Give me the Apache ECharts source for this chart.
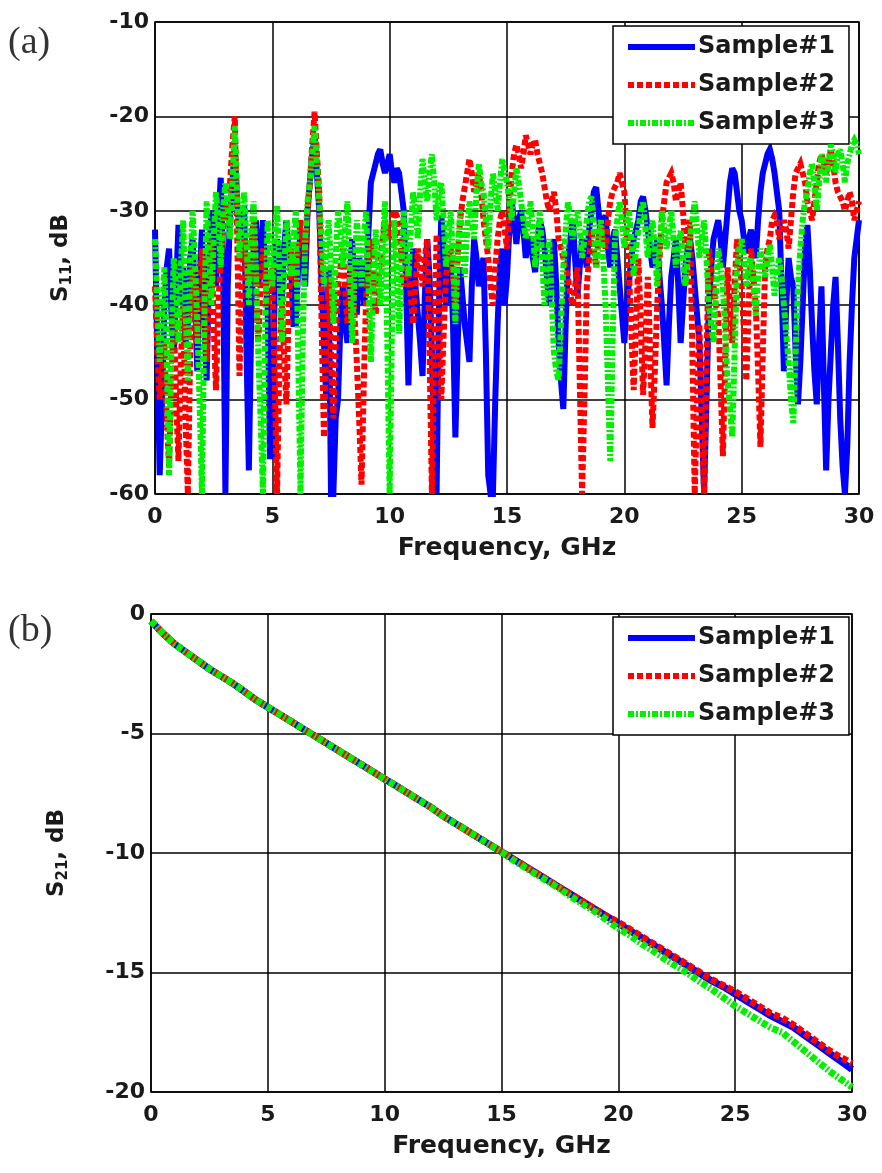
<!DOCTYPE html>
<html>
<head>
<meta charset="utf-8">
<script src="https://cdn.jsdelivr.net/npm/echarts@6/dist/echarts.min.js"></script>
<style>
html,body{margin:0;padding:0;background:#fff;}
#c{width:882px;height:1173px;}
</style>
</head>
<body>
<div id="c"></div>
<script>
// ---- (a) S11, sampled every 0.1 GHz from 0 to 30 GHz (one row = 1 GHz) ----
const S11_STEP_GHZ = 0.1;
const s11Sample1 = [
  -32,-45,-58,-50,-40,-36,-34,-41,-45,-38,
  -31.5,-40,-36,-44,-42,-35,-33,-39,-47,-37,
  -32,-41,-48,-36,-30,-34,-38,-31,-26.5,-35,
  -60,-38,-30,-27,-23,-29,-33,-31,-29.5,-45,
  -57.5,-42,-34,-31,-38,-35,-31,-37,-40,-56,
  -56,-38,-33,-36,-40,-34,-31,-35,-36,-42,
  -42,-36,-32,-35,-38,-30,-27,-24,-22,-26,
  -30,-38,-44,-50,-36,-60,-60,-52,-50,-42,
  -38,-42,-44,-37,-33,-38,-41,-35,-36,-40,
  -38,-32,-27,-26,-25,-24,-23.5,-25,-26,-25,
  -24,-26,-27,-25.5,-26,-28,-30,-38,-48.5,-40,
  -34,-38,-41,-44,-47.5,-39,-33,-37,-45,-55,
  -60,-40,-30.5,-34,-40,-37,-35,-42,-54,-44,
  -36,-39,-42,-44,-46,-38,-33,-35,-38,-36,
  -35,-45,-58,-60,-60,-50,-42,-36,-34,-40,
  -37,-32,-29,-31,-33.5,-31,-30,-32,-35,-33,
  -33,-35,-36.5,-33,-31,-32,-34,-37,-40,-36,
  -33,-38,-44,-48,-51,-42,-35,-33,-31,-35,
  -39,-36,-33,-34,-36,-32,-30,-28,-27.5,-30,
  -33,-31,-30.5,-34,-36,-33,-32,-35,-38,-41,
  -44,-40,-37.5,-35,-33,-32,-31,-29,-28.5,-30,
  -32,-34,-36,-35,-33,-37,-40,-44,-48.5,-42,
  -37,-35,-33,-38,-44,-40,-36,-34,-33,-35,
  -38,-41,-44,-52,-60,-50,-40,-36,-33,-32,
  -31,-33,-36,-33,-30,-27,-25.5,-26,-28,-30,
  -31,-33,-34.5,-33,-32,-34,-35,-31,-28,-26,
  -25,-24,-23.5,-24.5,-26,-28,-30,-38,-47,-40,
  -35,-37,-38,-45,-50.5,-46,-40,-34,-31.5,-36,
  -42,-47,-50.5,-44,-38,-48,-57.5,-50,-45,-40,
  -37,-44,-52,-57,-60,-55,-46,-40,-35,-33,
  -31
];
const s11Sample2 = [
  -38,-45,-50,-47,-44,-52,-57,-48,-41,-50,
  -56.5,-46,-40,-52,-60,-45,-36,-40,-44,-38,
  -34,-40,-46,-38,-33,-42,-49,-40,-35,-32,
  -30,-29,-27,-23,-20,-32,-47.5,-38,-33,-36,
  -38,-34,-31,-38,-44,-38,-34,-37,-40,-38,
  -36,-48,-60,-46,-39.5,-45,-50.5,-40,-34,-36,
  -38,-34,-31,-33,-35,-30,-27,-23,-19.5,-24,
  -28,-42,-54,-44,-37,-45,-52,-44,-38,-36,
  -34,-38,-42,-39,-36,-41,-46,-52,-59,-48,
  -39,-36,-33,-37,-41,-38,-35,-33,-31,-32,
  -33,-31,-30,-30.5,-31.5,-35,-38,-37,-36,-39,
  -42,-38,-34,-36,-38,-35,-33,-45,-60,-45,
  -32.5,-40,-50,-43,-37,-35,-34,-37,-40,-35,
  -31,-29,-27.5,-26,-24.5,-26,-28,-27,-26,-28,
  -31,-33,-35,-38,-40,-36,-33,-31,-30,-32,
  -34,-30,-26,-24,-23,-24,-25.5,-24,-22,-23,
  -24,-23,-22.5,-24,-25,-26,-27.5,-29,-30,-29,
  -28,-30,-33,-34,-35,-36,-37,-39,-40,-38,
  -36,-48,-60,-50,-38,-35,-32,-34,-36,-33,
  -31,-33,-34,-31,-29,-28,-27.5,-27,-26,-27,
  -28,-32,-36.5,-43,-49,-42,-35,-42,-49.5,-44,
  -37,-45,-53,-47,-40,-35,-31,-29,-27,-26.5,
  -26,-27,-29,-28,-27,-30,-34,-32,-31,-45,
  -60,-50,-42,-52,-60,-46,-34,-36,-38,-40,
  -41,-48,-56,-46,-36,-40,-44,-38,-33,-35,
  -38,-43,-48,-40,-34,-37,-40,-47,-55,-45,
  -36,-34,-33,-31,-30.5,-31,-33,-32,-31,-32,
  -34,-31,-28,-26,-25.5,-25,-26,-27,-29,-30,
  -31,-29,-27,-25,-24,-25,-26,-25,-23.5,-25,
  -27,-28,-28.5,-29,-30,-29,-28,-29,-31,-30,
  -29
];
const s11Sample3 = [
  -33,-40,-46,-41,-36,-45,-58,-44,-35,-38,
  -44,-36,-31,-40,-48,-36,-30,-35,-42,-50,
  -60,-42,-29,-34,-40,-33,-28,-31,-36,-30,
  -27,-29,-33,-27,-21,-28,-35,-31,-28,-33,
  -40,-33,-29,-36,-45,-52,-60,-42,-31,-34,
  -38,-33,-29.5,-36,-44,-37,-31,-33,-37,-33,
  -30,-45,-60,-43,-33,-29,-27,-24,-21,-25,
  -29,-33,-38,-34,-31,-36,-42,-35,-30,-32,
  -36,-32,-29,-36,-44,-37,-31,-34,-38,-33,
  -30,-38,-46,-38,-32,-35,-40,-34,-29,-44,
  -60,-42,-31,-36,-43,-36,-30,-33,-37,-32,
  -28,-30,-33,-28,-24.5,-27,-29,-26,-24,-27,
  -31,-28,-27,-31,-36,-33,-30,-35,-42,-35,
  -30,-33,-37,-32,-29,-31,-33,-28,-25,-27,
  -28,-31,-34,-29,-26,-28,-30,-27,-24.5,-26,
  -27,-29,-31,-28,-25.5,-27,-29,-31,-33,-31,
  -29,-32,-36,-33,-30,-35,-40,-36,-33,-39,
  -45,-47,-48,-42,-36,-32,-29,-31,-33,-31,
  -30,-32,-35,-33,-31,-29,-28.5,-32,-36,-33,
  -31,-35,-40,-48,-56.5,-44,-33,-31,-29,-31,
  -34,-32,-30,-33,-37,-34,-32,-30,-29,-32,
  -35,-33,-31,-34,-38,-34,-30,-32,-34,-32,
  -30,-33,-36,-34,-32,-35,-38,-35,-33,-31,
  -29,-32,-35,-33,-31,-35,-40,-42,-44,-39,
  -34,-36,-38,-43,-48,-51,-54,-45,-36,-34,
  -33,-35,-38,-36,-35,-38,-41,-37,-34,-36,
  -37,-35,-33.5,-36,-39,-37,-35,-37,-40,-43,
  -46,-50,-52.5,-45,-38,-34,-31,-29,-28,-26,
  -25,-27,-30,-27,-24,-25,-27,-25,-23,-24,
  -26,-24,-23.5,-25,-27,-25,-24,-23,-22.5,-23,
  -24
];

// ---- (b) S21, sampled every 0.5 GHz from 0 to 30 GHz ----
const S21_STEP_GHZ = 0.5;
const s21Sample1 = [
  -0.3,-0.8,-1.25,-1.6,-1.95,-2.3,-2.6,-2.9,-3.25,-3.6,
  -3.9,-4.2,-4.5,-4.8,-5.1,-5.4,-5.7,-6.0,-6.3,-6.6,
  -6.9,-7.2,-7.5,-7.8,-8.1,-8.45,-8.75,-9.05,-9.35,-9.65,
  -9.95,-10.25,-10.55,-10.85,-11.15,-11.45,-11.75,-12.05,-12.35,-12.65,
  -12.95,-13.25,-13.55,-13.85,-14.15,-14.45,-14.75,-15.05,-15.35,-15.6,
  -15.9,-16.2,-16.5,-16.8,-17.05,-17.3,-17.65,-18.0,-18.35,-18.7,
  -19.05
];
const s21Sample2 = [
  -0.3,-0.8,-1.25,-1.6,-1.95,-2.3,-2.6,-2.9,-3.25,-3.6,
  -3.9,-4.2,-4.5,-4.8,-5.1,-5.4,-5.7,-6.0,-6.3,-6.6,
  -6.9,-7.2,-7.5,-7.8,-8.1,-8.45,-8.75,-9.05,-9.35,-9.65,
  -9.95,-10.25,-10.55,-10.85,-11.15,-11.45,-11.75,-12.05,-12.35,-12.65,
  -12.9,-13.2,-13.5,-13.8,-14.1,-14.4,-14.7,-15.0,-15.3,-15.55,
  -15.8,-16.1,-16.4,-16.7,-16.9,-17.2,-17.55,-17.9,-18.25,-18.55,
  -18.8
];
const s21Sample3 = [
  -0.3,-0.8,-1.25,-1.6,-1.95,-2.3,-2.6,-2.9,-3.25,-3.6,
  -3.9,-4.2,-4.5,-4.8,-5.1,-5.4,-5.7,-6.0,-6.3,-6.6,
  -6.9,-7.2,-7.5,-7.8,-8.1,-8.45,-8.75,-9.05,-9.35,-9.65,
  -9.95,-10.3,-10.6,-10.9,-11.2,-11.5,-11.85,-12.15,-12.45,-12.8,
  -13.15,-13.45,-13.8,-14.1,-14.45,-14.75,-15.05,-15.4,-15.7,-16.05,
  -16.4,-16.7,-17.0,-17.3,-17.5,-17.9,-18.3,-18.7,-19.1,-19.45,
  -19.8
];

const seriesNames = ['Sample#1', 'Sample#2', 'Sample#3'];
const colors = ['#0000ff', '#ff0000', '#00f000'];

const xTicksS11 = { min: 0, max: 30, interval: 5 };
const yTicksS11 = { min: -60, max: -10, interval: 10 };
const xTicksS21 = { min: 0, max: 30, interval: 5 };
const yTicksS21 = { min: -20, max: 0, interval: 5 };

function pairs(arr, step) {
  return arr.map((v, i) => [+(i * step).toFixed(2), v]);
}

const LABEL_FONT = 'DejaVu Sans, Liberation Sans, Arial, sans-serif';
const dashStyles = ['solid', [6, 3], [6, 2, 2, 2]];

function makeSeries(datasets, step, gridIdx, width) {
  return datasets.map((d, k) => ({
    name: seriesNames[k],
    type: 'line',
    xAxisIndex: gridIdx,
    yAxisIndex: gridIdx,
    data: pairs(d, step),
    showSymbol: false,
    symbol: 'none',
    animation: false,
    clip: true,
    lineStyle: { color: colors[k], width: width, type: dashStyles[k], join: 'miter', miterLimit: 3 },
    itemStyle: { color: colors[k] },
    z: 2 + k
  }));
}

function xAxisCfg(gridIdx, ticks) {
  return {
    type: 'value', gridIndex: gridIdx, min: ticks.min, max: ticks.max, interval: ticks.interval,
    axisLine: { show: false }, axisTick: { show: false },
    splitLine: { show: true, lineStyle: { color: '#000', width: 1.5 } },
    axisLabel: { fontSize: 22, fontWeight: 'bold', color: '#1a1a1a', fontFamily: LABEL_FONT, margin: 12 },
    name: 'Frequency, GHz', nameLocation: 'middle', nameGap: 42,
    nameTextStyle: { fontSize: 25, fontWeight: 'bold', color: '#1a1a1a', fontFamily: LABEL_FONT }
  };
}
function yAxisCfg(gridIdx, ticks, sub) {
  return {
    type: 'value', gridIndex: gridIdx, min: ticks.min, max: ticks.max, interval: ticks.interval,
    axisLine: { show: false }, axisTick: { show: false },
    splitLine: { show: true, lineStyle: { color: '#000', width: 1.5 } },
    axisLabel: { fontSize: 22, fontWeight: 'bold', color: '#1a1a1a', fontFamily: LABEL_FONT, margin: 6 },
    name: '{m|S}{s|' + sub + '}{m|, dB}', nameLocation: 'middle', nameGap: 80, nameRotate: 90,
    nameTextStyle: {
      rich: {
        m: { fontSize: 23, fontWeight: 'bold', color: '#1a1a1a', fontFamily: LABEL_FONT, lineHeight: 25, verticalAlign: 'top' },
        s: { fontSize: 15, fontWeight: 'bold', color: '#1a1a1a', fontFamily: LABEL_FONT, lineHeight: 15, padding: [14, 0, 0, 0], verticalAlign: 'bottom' }
      }
    }
  };
}
function legendCfg(top) {
  return {
    data: seriesNames,
    orient: 'vertical', left: 613, top: top,
    padding: [9, 14, 9, 12],
    itemWidth: 67, itemHeight: 14, itemGap: 14,
    backgroundColor: '#fff', borderColor: '#000', borderWidth: 1.5, borderRadius: 0,
    itemStyle: { opacity: 0 },
    lineStyle: { width: 6 },
    textStyle: { fontSize: 24, fontWeight: 'bold', color: '#1a1a1a', fontFamily: LABEL_FONT, padding: [0, 0, 0, -2] },
    selectedMode: false
  };
}

const chart = echarts.init(document.getElementById('c'), null, { renderer: 'canvas' });
chart.setOption({
  backgroundColor: '#fff',
  animation: false,
  grid: [
    { left: 155, top: 22, width: 704, height: 472, show: true, borderColor: '#000', borderWidth: 1.5, backgroundColor: 'transparent' },
    { left: 151, top: 614, width: 701, height: 478, show: true, borderColor: '#000', borderWidth: 1.5, backgroundColor: 'transparent' }
  ],
  xAxis: [xAxisCfg(0, xTicksS11), xAxisCfg(1, xTicksS21)],
  yAxis: [yAxisCfg(0, yTicksS11, '11'), yAxisCfg(1, yTicksS21, '21')],
  legend: [legendCfg(26), legendCfg(617)],
  series: [].concat(
    makeSeries([s11Sample1, s11Sample2, s11Sample3], S11_STEP_GHZ, 0, 6),
    makeSeries([s21Sample1, s21Sample2, s21Sample3], S21_STEP_GHZ, 1, 7)
  ),
  graphic: [
    { type: 'text', left: 8, top: 24, style: { text: '(a)', font: '38px "Liberation Serif", "DejaVu Serif", serif', fill: '#333' } },
    { type: 'text', left: 8, top: 612, style: { text: '(b)', font: '38px "Liberation Serif", "DejaVu Serif", serif', fill: '#333' } }
  ]
});
</script>
</body>
</html>
